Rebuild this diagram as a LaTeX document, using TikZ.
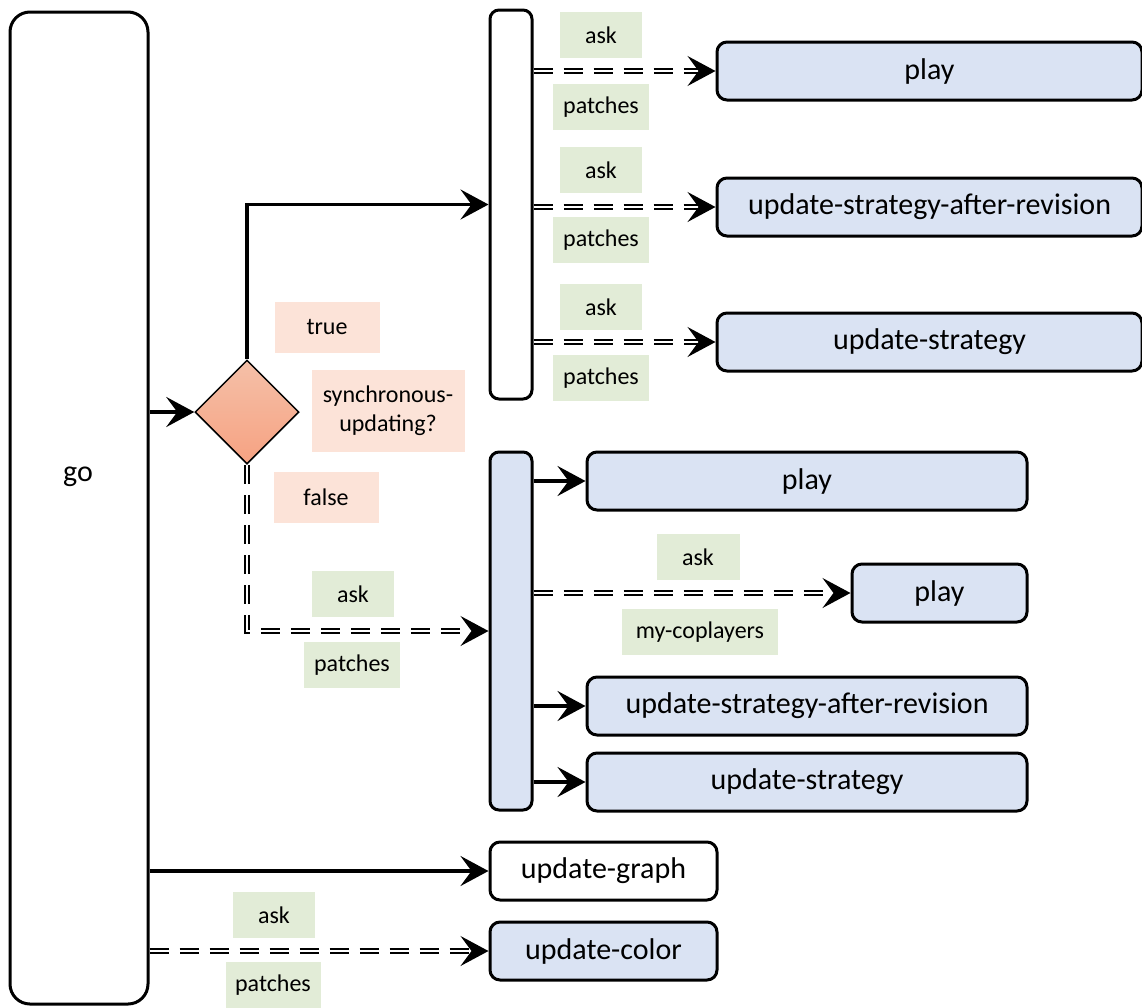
\documentclass[tikz,border=0pt]{standalone}
\usepackage{fontspec}
\setmainfont{Carlito}
\usetikzlibrary{arrows.meta,shapes.geometric}
\definecolor{BoxBlue}{RGB}{218,227,243}
\definecolor{TagGreen}{RGB}{226,236,215}
\definecolor{TagPink}{RGB}{252,227,216}
\definecolor{DiaTop}{RGB}{245,192,168}
\definecolor{DiaBot}{RGB}{246,162,130}
\tikzset{
  proc/.style={draw,line width=3pt,rounded corners=10pt,fill=BoxBlue,inner sep=0pt,
               minimum height=58pt,font=\fontsize{30}{36}\selectfont},
  bar/.style={draw,line width=3pt,rounded corners=9pt,inner sep=0pt,minimum width=42pt},
  tag/.style={fill=TagGreen,inner sep=0pt,minimum height=46pt,font=\fontsize{24}{29}\selectfont},
  call/.style={line width=3.5pt,-{Stealth[length=28pt,width=30pt,inset=11pt]}},
  pass/.style={line width=1.6pt,double,double distance=2.6pt,dash pattern=on 19pt off 11pt,
               -{Stealth[length=28pt,width=30pt,inset=11pt]}},
}
\begin{document}
\begin{tikzpicture}[x=1pt,y=-1pt]
  \useasboundingbox (0,0) rectangle (1142,1007);
  % observer
  \node[draw,line width=3pt,rounded corners=20pt,minimum width=138pt,minimum height=992pt] (go) at (79,508) {};
  \node[font=\fontsize{30}{36}\selectfont] (golabel) at (78,477) {go};
  % decision
  \node[diamond,draw,line width=1.5pt,aspect=1,minimum width=104pt,minimum height=104pt,
        inner sep=0pt,top color=DiaTop,bottom color=DiaBot] (sync) at (247,412) {};
  \node[tag,fill=TagPink,minimum width=105pt,minimum height=51pt] (true) at (327,327) {true};
  \node[tag,fill=TagPink,minimum width=153pt,minimum height=82pt,align=center] (cond) at (388,411)
    {synchronous-\\updating?};
  \node[tag,fill=TagPink,minimum width=105pt,minimum height=51pt] (false) at (326,497) {false};
  % synchronous branch
  \node[bar,minimum height=389pt] (syncbar) at (511,204.5) {};
  \node[proc,minimum width=425pt] (play1) at (929.5,71) {play};
  \node[proc,minimum width=425pt] (usar1) at (929.5,207) {update-strategy-after-revision};
  \node[proc,minimum width=425pt] (us1) at (929.5,342) {update-strategy};
  \foreach \t/\y in {play1/35,usar1/170,us1/307}
    \node[tag,minimum width=82pt] (ask-\t) at (601,\y) {ask};
  \foreach \t/\y in {play1/107,usar1/240,us1/378}
    \node[tag,minimum width=96pt] (pat-\t) at (601,\y) {patches};
  \foreach \t in {play1,usar1,us1}
    \draw[pass] (syncbar.east |- \t.west) -- (\t.west);
  % asynchronous branch
  \node[bar,fill=BoxBlue,minimum height=358pt] (asyncbar) at (511,631) {};
  \node[proc,minimum width=440pt] (play2) at (807,481) {play};
  \node[proc,minimum width=175pt] (play3) at (939.5,593) {play};
  \node[proc,minimum width=440pt] (usar2) at (807,706) {update-strategy-after-revision};
  \node[proc,minimum width=440pt] (us2) at (807,782) {update-strategy};
  \node[tag,minimum width=83pt] (ask-play3) at (698,557) {ask};
  \node[tag,minimum width=156pt] (cop-play3) at (700,632) {my-coplayers};
  \foreach \t in {play2,usar2,us2}
    \draw[call] (asyncbar.east |- \t.west) -- (\t.west);
  \draw[pass] (asyncbar.east |- play3.west) -- (play3.west);
  % branch connectors
  \draw[call] (go.east |- sync.west) -- (sync.west);
  \draw[call] (sync.north) |- (syncbar.west);
  \draw[pass] (sync.south) |- (asyncbar.west);
  \node[tag,minimum width=82pt] (ask-async) at (353,594) {ask};
  \node[tag,minimum width=96pt] (pat-async) at (352,665) {patches};
  % graph and colours
  \node[proc,fill=white,minimum width=227pt] (graph) at (603.5,871) {update-graph};
  \node[proc,minimum width=227pt] (color) at (603.5,951) {update-color};
  \draw[call] (go.east |- graph.west) -- (graph.west);
  \draw[pass] (go.east |- color.west) -- (color.west);
  \node[tag,minimum width=82pt] (ask-color) at (274,915) {ask};
  \node[tag,minimum width=95pt] (pat-color) at (273,985) {patches};
\end{tikzpicture}
\end{document}
